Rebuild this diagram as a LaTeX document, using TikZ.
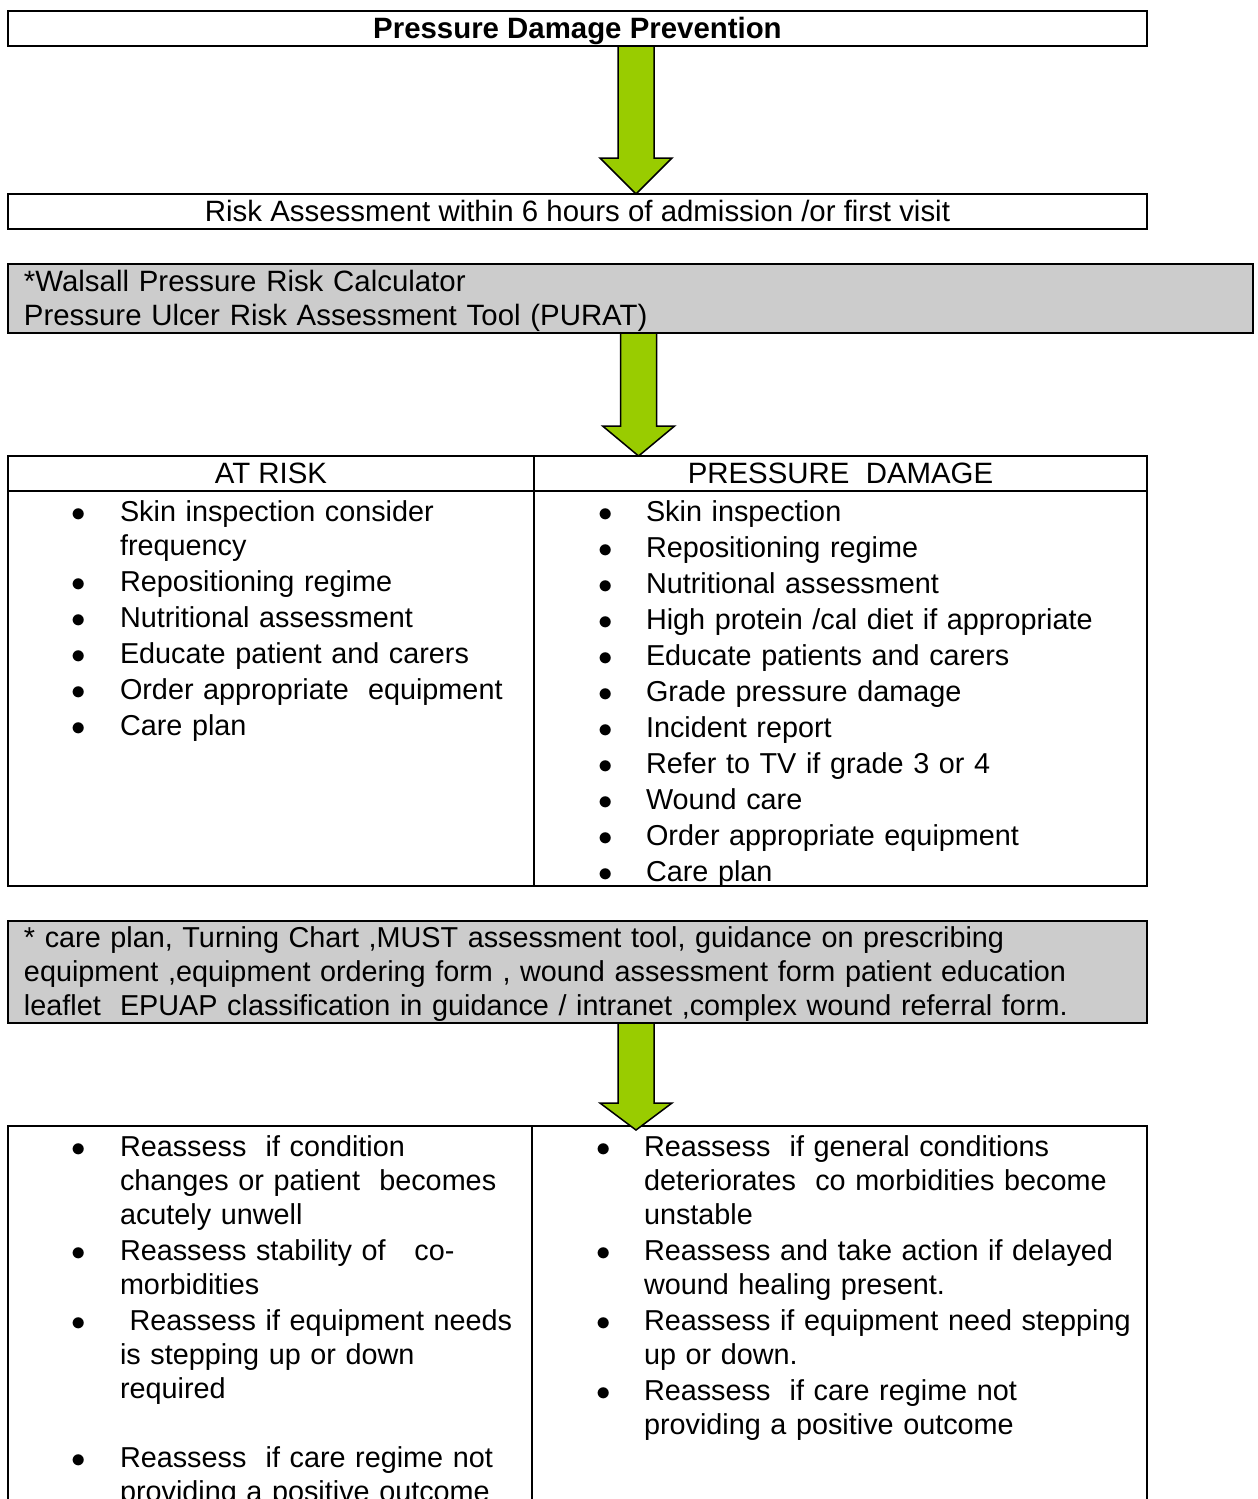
\documentclass[tikz,border=0pt]{standalone}
\usepackage{fontspec}
\setmainfont{Liberation Sans}
\usepackage{xcolor}
\usepackage{tikz}
\usetikzlibrary{calc}
\usetikzlibrary{positioning}
\definecolor{pfeilgruen}{HTML}{99CC00}
\definecolor{kastengrau}{HTML}{CCCCCC}
\newcommand\grundschrift{\fontsize{14.7}{17}\selectfont}
\newcommand\listenschrift{\fontsize{14.4}{17}\selectfont}
\newcommand\punkt{\hspace*{32pt}\makebox[24pt][l]{$\bullet$}} % Aufzaehlungspunkt
\newcommand\weiter{\hspace*{56pt}} % Folgezeile
\tikzset{
  box/.style={draw, line width=1pt, inner sep=0pt, outer sep=0pt,
    text height=13.75pt, text depth=3.75pt, align=center}, % einzeilige Kaesten
  greybox/.style={box, fill=kastengrau, align=left, inner xsep=8pt}, % graue Hinweise
  cell/.style={draw, line width=1pt, inner sep=0pt, outer sep=0pt, align=left,
    font=\listenschrift}, % Tabellenzellen
  blockarrow/.style={draw=black, fill=pfeilgruen, line width=0.75pt,
    to path={let \p1=(\tikztostart), \p2=(\tikztotarget) in
      (\x1-9pt,\y1) -- (\x1-9pt,\y2+#1) -- (\x1-18pt,\y2+#1) -- (\x1,\y2)
      -- (\x1+18pt,\y2+#1) -- (\x1+9pt,\y2+#1) -- (\x1+9pt,\y1) -- cycle}},
  blockarrow/.default=15pt
}

\begin{document}
\begin{tikzpicture}[x=1pt, y=-1pt, font=\grundschrift]
\useasboundingbox (0,0) rectangle (629,749.5);

%Kaesten oben
\node[box, font=\grundschrift\bfseries, minimum width=569.5pt, anchor=north west]
  (titel) at (4,5.5) {Pressure Damage Prevention};
\node[box, minimum width=569.5pt, anchor=north west]
  (risiko) at (4,97) {Risk Assessment within 6 hours of admission /or first visit};
\node[greybox, text width=606.5pt, text height=13.75pt, text depth=20.75pt, anchor=north west]
  (walsall) at (4,132) {*Walsall Pressure Risk Calculator\\
  Pressure Ulcer Risk Assessment Tool (PURAT)};

%Tabelle 1
\node[box, minimum width=263pt, anchor=north west] (atriskkopf) at (4,228) {AT RISK};
\node[box, minimum width=306.5pt, right=0pt of atriskkopf] (schadenkopf) {PRESSURE\ \ DAMAGE};

\node[cell, text width=263pt, text height=15pt, text depth=182.5pt, below=0pt of atriskkopf]
  (atriskliste) {\punkt Skin inspection consider\\\weiter frequency\\[1pt]
  \punkt Repositioning regime\\[1pt]
  \punkt Nutritional assessment\\[1pt]
  \punkt Educate patient and carers\\[1pt]
  \punkt Order appropriate\ \ equipment\\[1pt]
  \punkt Care plan};
\node[cell, text width=306.5pt, text height=15pt, text depth=182.5pt, below=0pt of schadenkopf]
  (schadenliste) {\punkt Skin inspection\\[1pt]
  \punkt Repositioning regime\\[1pt]
  \punkt Nutritional assessment\\[1pt]
  \punkt High protein /cal diet if appropriate\\[1pt]
  \punkt Educate patients and carers\\[1pt]
  \punkt Grade pressure damage\\[1pt]
  \punkt Incident report\\[1pt]
  \punkt Refer to TV if grade 3 or 4\\[1pt]
  \punkt Wound care\\[1pt]
  \punkt Order appropriate equipment\\[1pt]
  \punkt Care plan};

%Hinweise
\node[greybox, font=\listenschrift, text width=553.5pt, text height=13pt, text depth=38pt, anchor=north west]
  (hinweise) at (4,460.5) {* care plan, Turning Chart ,MUST assessment tool, guidance on prescribing\\
  equipment ,equipment ordering form , wound assessment form patient education\\
  leaflet\ \ EPUAP classification in guidance / intranet ,complex wound referral form.};

%Tabelle 2
\node[cell, text width=262pt, text height=15pt, text depth=200pt, anchor=north west]
  (neuliste) at (4,563) {\punkt Reassess\ \ if condition\\\weiter changes or patient\ \ becomes\\
  \weiter acutely unwell\\[1pt]
  \punkt Reassess stability of\ \ \ co-\\\weiter morbidities\\[1pt]
  \punkt\ Reassess if equipment needs\\\weiter is stepping up or down\\\weiter required\\[17.5pt]
  \punkt Reassess\ \ if care regime not\\\weiter providing a positive outcome};
\node[cell, text width=307.5pt, text height=15pt, text depth=200pt, right=0pt of neuliste]
  (heilliste) {\punkt Reassess\ \ if general conditions\\\weiter deteriorates\ \ co morbidities become\\
  \weiter unstable\\[1pt]
  \punkt Reassess and take action if delayed\\\weiter wound healing present.\\[1pt]
  \punkt Reassess if equipment need stepping\\\weiter up or down.\\[1pt]
  \punkt Reassess\ \ if care regime not\\\weiter providing a positive outcome};

%Pfeile
\draw[blockarrow=18pt] (titel.south -| 318,0) to (risiko.north -| 318,0);
\draw[blockarrow=15pt] (walsall.south -| 319.3,0) to (schadenkopf.north -| 319.3,0);
\draw[blockarrow=13.5pt] (hinweise.south -| 318,0) to ([yshift=-2pt]heilliste.north -| 318,0);

\end{tikzpicture}
\end{document}
